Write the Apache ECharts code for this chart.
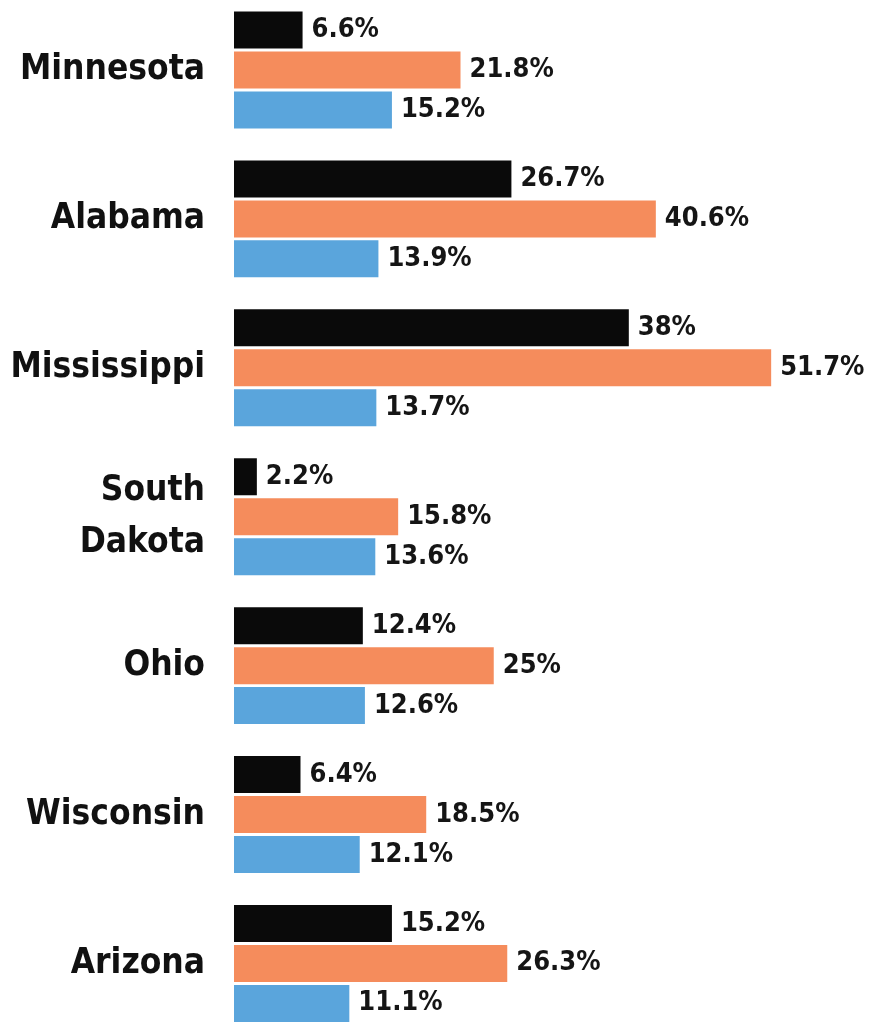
<!DOCTYPE html>
<html>
<head>
<meta charset="utf-8">
<script src="https://cdn.jsdelivr.net/npm/echarts@6/dist/echarts.min.js"></script>
<style>
html,body{margin:0;padding:0;background:#fff;}
#c{width:887px;height:1024px;}
</style>
</head>
<body>
<div id="c"></div>
<script>
var categories = ['Minnesota', 'Alabama', 'Mississippi', 'South\nDakota', 'Ohio', 'Wisconsin', 'Arizona'];
var blackValues = [6.6, 26.7, 38, 2.2, 12.4, 6.4, 15.2];
var orangeValues = [21.8, 40.6, 51.7, 15.8, 25, 18.5, 26.3];
var blueValues = [15.2, 13.9, 13.7, 13.6, 12.6, 12.1, 11.1];

var FONT = "'Liberation Sans Narrow', 'DejaVu Sans Condensed', 'Roboto', sans-serif";

function mkSeries(name, data, color) {
  return {
    name: name,
    type: 'bar',
    data: data,
    barWidth: 37,
    barGap: '8%',
    itemStyle: { color: color },
    label: {
      show: true,
      position: 'right',
      distance: 9,
      formatter: function (p) { return p.value + '%'; },
      fontFamily: FONT,
      fontWeight: 'bold',
      fontSize: 27,
      color: '#151515'
    },
    silent: true,
    animation: false
  };
}

var chart = echarts.init(document.getElementById('c'), null, { renderer: 'canvas' });
chart.setOption({
  backgroundColor: '#ffffff',
  animation: false,
  grid: { left: 234, right: 29.6, top: -4.45, bottom: -13.9, containLabel: false, outerBoundsMode: 'none' },
  xAxis: {
    type: 'value', min: 0, max: 60, show: false
  },
  yAxis: {
    type: 'category',
    data: categories,
    inverse: true,
    axisLine: { show: false },
    axisTick: { show: false },
    splitLine: { show: false },
    axisLabel: {
      margin: 29,
      fontFamily: FONT,
      fontWeight: 'bold',
      fontSize: 35,
      lineHeight: 52,
      color: '#111111',
      align: 'right'
    }
  },
  series: [
    mkSeries('Black', blackValues, '#0a0a0a'),
    mkSeries('Orange', orangeValues, '#F58C5C'),
    mkSeries('Blue', blueValues, '#5AA5DC')
  ]
});
</script>
</body>
</html>
